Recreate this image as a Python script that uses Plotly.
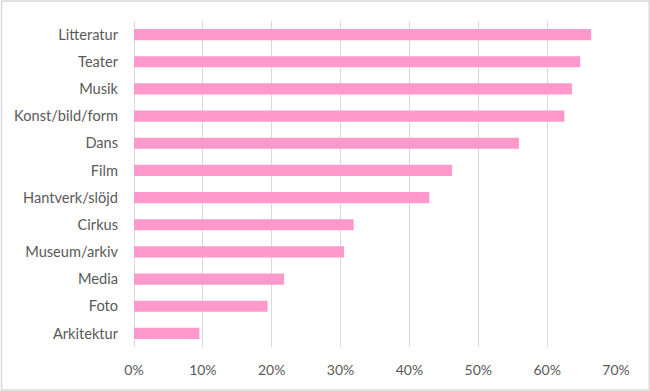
import plotly.graph_objects as go

categories = ["Litteratur", "Teater", "Musik", "Konst/bild/form", "Dans", "Film",
              "Hantverk/slöjd", "Cirkus", "Museum/arkiv", "Media", "Foto", "Arkitektur"]
values = [0.664, 0.648, 0.636, 0.625, 0.559, 0.462, 0.429, 0.319, 0.305, 0.218, 0.194, 0.095]
tick_vals = [0, 0.1, 0.2, 0.3, 0.4, 0.5, 0.6, 0.7]
tick_text = ["0%", "10%", "20%", "30%", "40%", "50%", "60%", "70%"]

W, H = 650, 391
L, R, T, B = 133.5, 34.3, 21, 44

fig = go.Figure(go.Bar(
    x=values, y=categories, orientation="h",
    marker=dict(color="#FF99CC", line=dict(width=0)),
))

pw = W - L - R
ph = H - T - B
def px_x(p):
    return (p - L) / pw
def px_y(p):
    return (H - B - p) / ph

fig.update_layout(
    width=W, height=H,
    margin=dict(l=L, r=R, t=T, b=B, pad=0, autoexpand=False),
    paper_bgcolor="white", plot_bgcolor="white",
    bargap=0.59,
    showlegend=False,
    font=dict(family="Lato, Open Sans, sans-serif", size=14, color="#595959"),
    xaxis=dict(range=[0, 0.7], tickvals=tick_vals, ticktext=tick_text,
               showgrid=True, gridcolor="#D9D9D9", gridwidth=1,
               zeroline=True, zerolinecolor="#D9D9D9", zerolinewidth=1,
               showline=False, ticks="", ticklabelstandoff=13, fixedrange=True,
               automargin=False),
    yaxis=dict(autorange="reversed", showgrid=False, showline=False, ticks="",
               ticklabelstandoff=15, fixedrange=True, automargin=False,
               tickfont=dict(size=14.6)),
    shapes=[dict(type="rect", xref="paper", yref="paper",
                 x0=px_x(1), x1=px_x(W - 1), y0=px_y(H - 1), y1=px_y(1),
                 line=dict(color="#D9D9D9", width=1.5), fillcolor="rgba(0,0,0,0)", layer="below")],
)

fig.write_html("out.html", config={"displayModeBar": False},
               post_script="document.body.style.margin='0';document.body.style.overflow='hidden';")
